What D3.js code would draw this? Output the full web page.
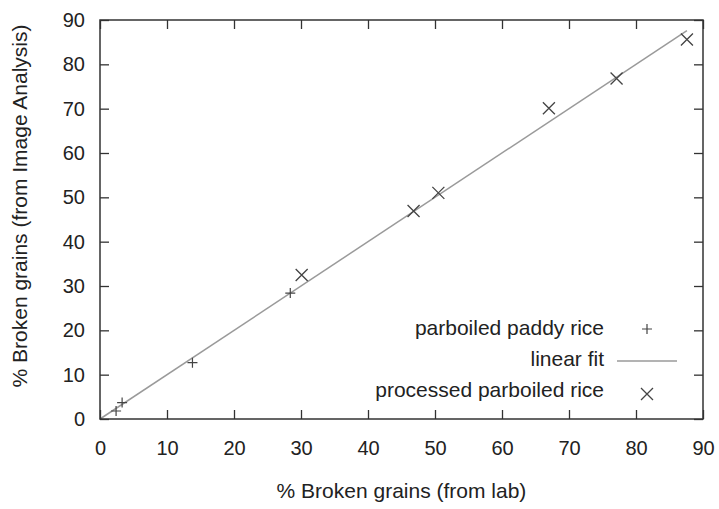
<!DOCTYPE html>
<html>
<head>
<meta charset="utf-8">
<script src="https://cdn.jsdelivr.net/npm/d3@7"></script>
<style>
  html, body { margin: 0; padding: 0; background: #fff; }
  svg text { font-family: "Liberation Sans", Arial, Helvetica, sans-serif; fill: #222; }
</style>
</head>
<body>
<svg id="chart" width="719" height="509"></svg>
<script>
// Broken-grain percentage: laboratory count vs. image analysis
const paddyLab = [2.4, 3.3, 13.8, 28.4];
const paddyImage = [1.8, 3.7, 12.7, 28.4];
const processedLab = [30.1, 46.8, 50.5, 67.0, 77.1, 87.6];
const processedImage = [32.5, 46.9, 51.0, 70.1, 76.8, 85.6];
const fitSlope = 1.0;
const fitIntercept = 0.0;
const fitRange = [0, 87.6];
const xTicks = [0, 10, 20, 30, 40, 50, 60, 70, 80, 90];
const yTicks = [0, 10, 20, 30, 40, 50, 60, 70, 80, 90];
const legendLabels = ["parboiled paddy rice", "linear fit", "processed parboiled rice"];

const svg = d3.select("#chart");
const plotL = 100, plotR = 703, plotT = 20, plotB = 419;
const x = d3.scaleLinear().domain([0, 90]).range([plotL, plotR]);
const y = d3.scaleLinear().domain([0, 90]).range([plotB, plotT]);
const tickFont = 20;
const labelFont = 21;
const tickLen = 9;
const frameColor = "#333";

// fitted line
const fitPts = fitRange.map(v => [v, fitSlope * v + fitIntercept]);
svg.append("path")
  .attr("d", d3.line().x(d => x(d[0])).y(d => y(d[1]))(fitPts))
  .attr("fill", "none").attr("stroke", "#9a9a9a").attr("stroke-width", 1.5);

// axes with inward ticks on all four sides
function styleAxis(g) {
  g.select(".domain").remove();
  g.selectAll(".tick line").attr("stroke", frameColor).attr("stroke-width", 1.3);
  g.selectAll(".tick text").attr("font-size", tickFont)
    .attr("font-family", '"Liberation Sans", Arial, sans-serif').attr("fill", "#222");
}
svg.append("g").attr("transform", `translate(0,${plotB})`)
  .call(d3.axisBottom(x).tickValues(xTicks).tickSize(-tickLen).tickPadding(22).tickFormat(d3.format("d")))
  .call(styleAxis);
svg.append("g").attr("transform", `translate(0,${plotT})`)
  .call(d3.axisTop(x).tickValues(xTicks).tickSize(-tickLen).tickFormat(""))
  .call(styleAxis);
svg.append("g").attr("transform", `translate(${plotL},0)`)
  .call(d3.axisLeft(y).tickValues(yTicks).tickSize(-tickLen).tickPadding(15).tickFormat(d3.format("d")))
  .call(styleAxis);
svg.append("g").attr("transform", `translate(${plotR},0)`)
  .call(d3.axisRight(y).tickValues(yTicks).tickSize(-tickLen).tickFormat(""))
  .call(styleAxis);

// frame
svg.append("rect").attr("x", plotL).attr("y", plotT)
  .attr("width", plotR - plotL).attr("height", plotB - plotT)
  .attr("fill", "none").attr("stroke", frameColor).attr("stroke-width", 1.5);

// markers
const markColor = "#444";
function plus(g, cx, cy, r) {
  g.append("path").attr("d", `M${cx - r},${cy}H${cx + r}M${cx},${cy - r}V${cy + r}`)
    .attr("stroke", markColor).attr("stroke-width", 1.2).attr("fill", "none");
}
function cross(g, cx, cy, r) {
  g.append("path").attr("d", `M${cx - r},${cy - r}L${cx + r},${cy + r}M${cx - r},${cy + r}L${cx + r},${cy - r}`)
    .attr("stroke", markColor).attr("stroke-width", 1.3).attr("fill", "none");
}
const marks = svg.append("g");
paddyLab.forEach((v, i) => plus(marks, x(v), y(paddyImage[i]), 5));
processedLab.forEach((v, i) => cross(marks, x(v), y(processedImage[i]), 6));

// legend
const lg = svg.append("g");
const legendX = 604, symX = 647;
const baselines = [335, 366, 397];
legendLabels.forEach((t, i) => {
  lg.append("text").attr("x", legendX).attr("y", baselines[i])
    .attr("text-anchor", "end").attr("font-size", labelFont).text(t);
});
plus(lg, symX, baselines[0] - 6, 5);
lg.append("line").attr("x1", 617).attr("x2", 677)
  .attr("y1", baselines[1] - 5).attr("y2", baselines[1] - 5)
  .attr("stroke", "#9a9a9a").attr("stroke-width", 1.5);
cross(lg, symX, baselines[2] - 3, 6);

// axis titles
svg.append("text").attr("x", (plotL + plotR) / 2).attr("y", 498)
  .attr("text-anchor", "middle").attr("font-size", labelFont)
  .text("% Broken grains (from lab)");
svg.append("text")
  .attr("transform", `translate(27,206) rotate(-90)`)
  .attr("text-anchor", "middle").attr("font-size", labelFont)
  .text("% Broken grains (from Image Analysis)");
</script>
</body>
</html>
